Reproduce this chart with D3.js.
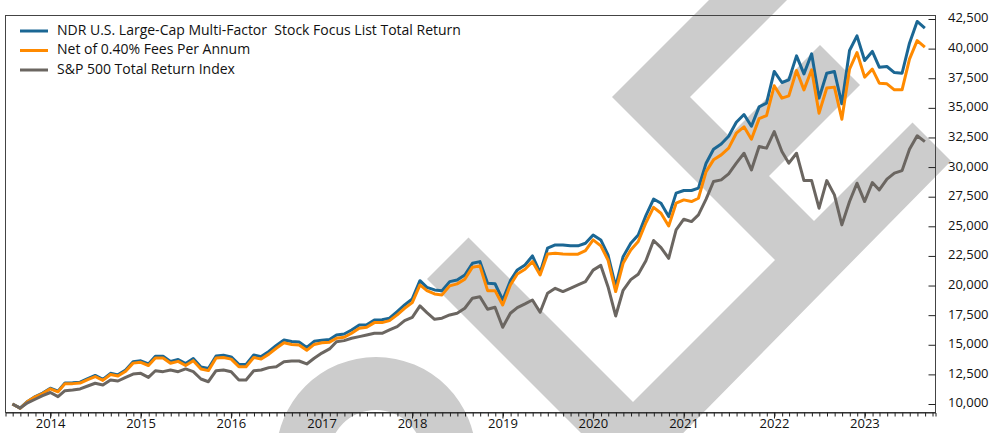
<!DOCTYPE html>
<html>
<head>
<meta charset="utf-8">
<script src="https://cdn.jsdelivr.net/npm/d3@7"></script>
<style>
  body { margin: 0; background: #fff; }
  svg { display: block; }
  text { font-family: "Open Sans", "Noto Sans", sans-serif; fill: #111; }
</style>
</head>
<body>
<div id="chart"></div>
<script>
// month-end values, Jul 2013 .. Aug 2023
const startMonth = "2013-07";

const seriesNames = [
  "NDR U.S. Large-Cap Multi-Factor  Stock Focus List Total Return",
  "Net of 0.40% Fees Per Annum",
  "S&P 500 Total Return Index"
];

const ndrValues = [
  10000, 9650, 10220, 10630, 10920, 11330, 11080, 11780, 11790, 11840,
  12140, 12410, 12080, 12590, 12460, 12870, 13570, 13650, 13380, 14030,
  14040, 13590, 13760, 13410, 13830, 13120, 12990, 14060, 14120, 13980,
  13340, 13340, 14140, 14000, 14430, 14940, 15410, 15280, 15230, 14780,
  15290, 15380, 15450, 15830, 15910, 16250, 16670, 16680, 17100, 17110,
  17240, 17800, 18360, 18870, 20410, 19850, 19630, 19570, 20330, 20470,
  20890, 21880, 22020, 20190, 20150, 18780, 20410, 21320, 21740, 22500,
  21090, 23150, 23430, 23430, 23350, 23350, 23570, 24270, 23850, 22580,
  19900, 22440, 23570, 24270, 25900, 27300, 26950, 25820, 27800, 28020,
  28020, 28220, 30330, 31500, 31950, 32600, 33780, 34440, 33450, 35080,
  35400, 38070, 37140, 37360, 39390, 37870, 39560, 35820, 37920, 38070,
  35340, 39840, 41080, 39000, 39760, 38430, 38490, 37980, 37920, 40460,
  42290, 41730
];

const netValues = [
  10000, 9640, 10200, 10600, 10880, 11280, 11030, 11720, 11720, 11770,
  12060, 12320, 11990, 12490, 12360, 12760, 13450, 13520, 13250, 13890,
  13890, 13440, 13600, 13250, 13660, 12950, 12820, 13880, 13930, 13790,
  13150, 13150, 13930, 13790, 14210, 14710, 15170, 15030, 14980, 14530,
  15030, 15170, 15220, 15550, 15630, 15970, 16390, 16480, 16870, 16870,
  17040, 17520, 18080, 18560, 20050, 19570, 19290, 19210, 19970, 20140,
  20530, 21550, 21660, 19570, 19570, 18360, 20050, 20980, 21370, 22020,
  20900, 22670, 22730, 22670, 22650, 22650, 22950, 23850, 23350, 22160,
  19490, 21880, 23010, 23720, 25300, 26600, 26100, 25030, 26950, 27230,
  27090, 27370, 29620, 30610, 31030, 31600, 32860, 33400, 32350, 34090,
  34340, 36860, 35820, 36010, 38150, 36520, 38210, 34550, 36670, 36750,
  34040, 38270, 39670, 37590, 38270, 37080, 37030, 36520, 36520, 39110,
  40680, 40120
];

const spxValues = [
  10000, 9650, 10100, 10400, 10700, 10970, 10620, 11120, 11180, 11270,
  11520, 11750, 11600, 12030, 11940, 12250, 12530, 12590, 12250, 12810,
  12730, 12870, 12730, 12960, 12730, 12110, 11880, 12810, 12870, 12730,
  12030, 12030, 12810, 12870, 13070, 13150, 13570, 13630, 13630, 13380,
  13860, 14300, 14650, 15260, 15350, 15550, 15690, 15830, 15970, 15970,
  16250, 16530, 17040, 17320, 18280, 17710, 17150, 17240, 17520, 17660,
  18080, 18930, 19060, 18000, 18170, 16480, 17660, 18140, 18450, 18780,
  17740, 19350, 19770, 19490, 19770, 20050, 20330, 21300, 21700, 19900,
  17430, 19600, 20500, 20950, 22100, 23800, 23200, 22300, 24700, 25600,
  25400, 25960, 27290, 28780, 28920, 29430, 30330, 31170, 29760, 31730,
  31600, 33000, 31310, 30330, 31170, 28860, 28860, 26530, 28860, 27650,
  25120, 27090, 28640, 27090, 28690, 28070, 28980, 29490, 29700, 31510,
  32640, 32150
];

const yTicks = [10000, 12500, 15000, 17500, 20000, 22500, 25000, 27500,
  30000, 32500, 35000, 37500, 40000, 42500];

const colors = ["#1b6794", "#ff8a00", "#6b6661"];

const width = 994, height = 433;
const plot = { left: 5.5, right: 935.5, top: 15.5, bottom: 412.5 };

const svg = d3.select("#chart").append("svg")
  .attr("width", width)
  .attr("height", height);

// background watermark (light grey logo shapes behind the chart)
const wm = svg.append("g").attr("fill", "#cccccc");
// big check-mark band
wm.append("path").attr("d",
  "M427,279 L468.5,237.5 L633,402 L912.5,122.5 L951,161 L632.5,484.5 Z");
// chevron with a short branch
wm.append("path").attr("d",
  "M719,-10 L612,97 L797.5,282.5 L836.5,243.5 L769,176 L860,85 L820,45 L729,136 L690,97 L797,-10 Z");
// arch at the bottom
wm.append("path")
  .attr("transform", "translate(376,457)")
  .attr("d", d3.arc()({ innerRadius: 47, outerRadius: 100, startAngle: 0, endAngle: 2 * Math.PI }));

const x = d3.scaleTime()
  .domain([new Date(2013, 6, 3), new Date(2023, 9, 13)])
  .range([plot.left, plot.right]);

const y = d3.scaleLinear()
  .domain([10000, 42500])
  .range([404, 19]);

const t0 = d3.timeParse("%Y-%m")(startMonth);
// month-end date for point i
const dateAt = i => new Date(t0.getFullYear(), t0.getMonth() + i + 1, 0);

// frame
svg.append("rect")
  .attr("x", plot.left).attr("y", plot.top)
  .attr("width", plot.right - plot.left)
  .attr("height", plot.bottom - plot.top)
  .attr("fill", "none")
  .attr("stroke", "#444")
  .attr("stroke-width", 1);

// x axis, monthly minor ticks
const xAxis = svg.append("g")
  .attr("transform", `translate(0,${plot.bottom})`);
xAxis.call(d3.axisBottom(x)
  .ticks(d3.timeMonth.every(1))
  .tickSize(4)
  .tickFormat(""));
xAxis.call(g => g.select(".domain").attr("stroke", "#222"));
xAxis.selectAll(".tick line").attr("stroke", "#222");

const years = d3.timeYear.range(new Date(2014, 0, 1), new Date(2023, 1, 1));
svg.append("g").selectAll("line")
  .data(years).join("line")
  .attr("x1", d => x(d)).attr("x2", d => x(d))
  .attr("y1", plot.bottom).attr("y2", plot.bottom + 6)
  .attr("stroke", "#222");
svg.append("g").selectAll("text")
  .data(years).join("text")
  .attr("x", d => x(d))
  .attr("y", 424.5)
  .attr("text-anchor", "middle")
  .attr("dominant-baseline", "middle")
  .style("font-size", "13px")
  .text(d3.timeFormat("%Y"));

// y axis on the right, ticks pointing inward
const yAxis = svg.append("g")
  .attr("transform", `translate(${plot.right},0)`);
yAxis.call(d3.axisLeft(y).tickValues(yTicks).tickSize(7).tickFormat(""));
yAxis.select(".domain").remove();
yAxis.selectAll(".tick line").attr("stroke", "#222");
svg.append("g").selectAll("text")
  .data(yTicks).join("text")
  .attr("x", 948)
  .attr("y", d => y(d))
  .attr("dominant-baseline", "middle")
  .style("font-size", "13px")
  .text(d3.format(","));

// lines
const line = d3.line()
  .x((d, i) => x(dateAt(i)))
  .y(d => y(d));

[ndrValues, netValues, spxValues].forEach((vals, k) => {
  svg.append("path")
    .datum(vals)
    .attr("fill", "none")
    .attr("stroke", colors[k])
    .attr("stroke-width", 3)
    .attr("stroke-linejoin", "round")
    .attr("d", line);
});

// legend
const legend = svg.append("g");
seriesNames.forEach((name, k) => {
  const ly = 31 + k * 19.5;
  legend.append("line")
    .attr("x1", 20).attr("x2", 48)
    .attr("y1", ly).attr("y2", ly)
    .attr("stroke", colors[k])
    .attr("stroke-width", 3);
  legend.append("text")
    .attr("x", 57).attr("y", ly)
    .attr("dominant-baseline", "middle")
    .style("font-size", "14px")
    .style("white-space", "pre")
    .text(name);
});
</script>
</body>
</html>
